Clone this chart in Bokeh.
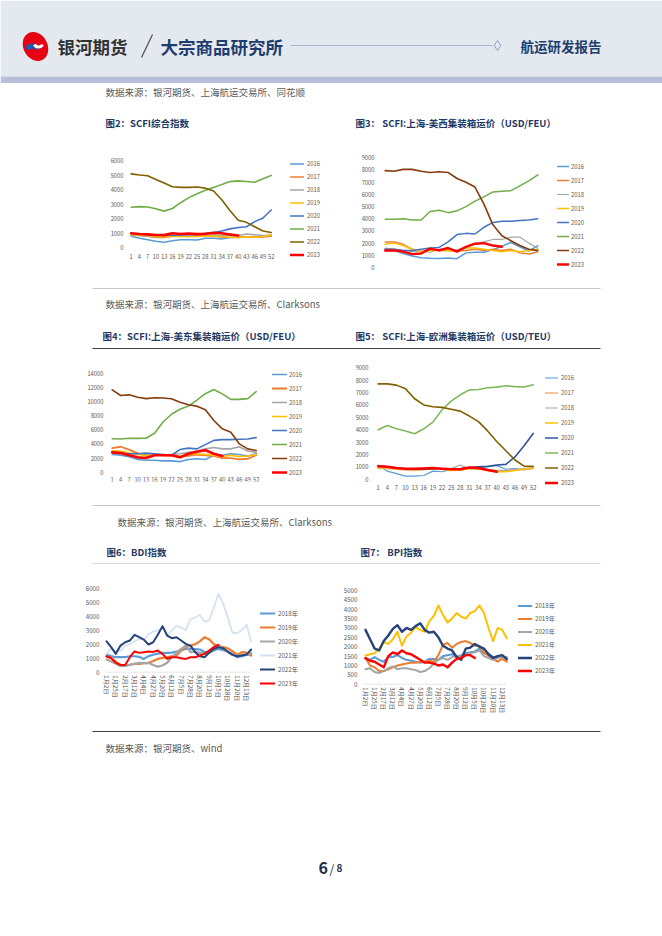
from bokeh.plotting import figure
from bokeh.layouts import column, row
from bokeh.models import Range1d, FixedTicker, Legend, LegendItem, Spacer
from bokeh.embed import file_html
from bokeh.resources import INLINE
from bokeh.core.properties import value

FONT = "Noto Sans CJK SC"

# ------------------------------------------------------------------ data
WEEKS = [1, 4, 7, 10, 13, 16, 19, 22, 25, 28, 31, 34, 37, 40, 43, 46, 49, 52]
WEEK_TICKS = [1, 4, 7, 10, 13, 16, 19, 22, 25, 28, 31, 34, 37, 40, 43, 46, 49, 52]
SCFI_YEARS = ["2016", "2017", "2018", "2019", "2020", "2021", "2022", "2023"]

# Fig 2: SCFI composite
s2_2016 = [800, 650, 550, 450, 380, 480, 550, 550, 530, 650, 650, 600, 700, 750, 750, 750, 800, 900]
s2_2017 = [900, 850, 800, 700, 700, 800, 800, 780, 800, 850, 800, 750, 700, 700, 750, 750, 750, 800]
s2_2018 = [850, 850, 800, 750, 780, 800, 800, 850, 850, 850, 900, 850, 850, 850, 950, 900, 850, 850]
s2_2019 = [900, 880, 850, 780, 760, 800, 780, 800, 780, 830, 800, 780, 720, 700, 750, 720, 760, 900]
s2_2020 = [980, 950, 900, 880, 880, 850, 880, 900, 920, 1000, 1050, 1150, 1300, 1400, 1450, 1800, 2050, 2600]
s2_2021 = [2790, 2830, 2800, 2680, 2520, 2700, 3100, 3450, 3720, 3960, 4150, 4350, 4550, 4600, 4560, 4500, 4750, 4970]
s2_2022 = [5080, 5000, 4950, 4700, 4450, 4200, 4150, 4150, 4180, 4100, 3900, 3300, 2550, 1900, 1750, 1450, 1150, 1050]
s2_2023 = [1000, 950, 920, 880, 870, 1000, 950, 980, 940, 950, 1030, 1000, 920, 850]

# Fig 3: Shanghai - US West (USD/FEU)
s3_2016 = [1530, 1390, 1150, 950, 800, 760, 740, 780, 720, 1200, 1250, 1250, 1450, 1750, 2050, 1700, 1350, 1800]
s3_2017 = [2100, 2100, 1900, 1500, 1300, 1500, 1400, 1400, 1350, 1400, 1500, 1400, 1500, 1400, 1500, 1200, 1100, 1300]
s3_2018 = [1600, 1500, 1400, 1300, 1350, 1250, 1500, 1500, 1450, 1700, 1900, 2100, 2300, 2300, 2500, 2500, 2000, 1600]
s3_2019 = [1900, 2000, 1800, 1500, 1300, 1400, 1400, 1400, 1300, 1600, 1600, 1500, 1400, 1300, 1400, 1300, 1400, 1500]
s3_2020 = [1500, 1500, 1400, 1400, 1500, 1600, 1650, 2100, 2700, 2800, 2750, 3300, 3700, 3800, 3800, 3850, 3900, 4000]
s3_2021 = [3950, 3950, 4000, 3900, 3900, 4600, 4700, 4500, 4650, 5000, 5450, 5800, 6200, 6250, 6300, 6700, 7100, 7600]
s3_2022 = [7950, 7900, 8050, 8050, 7900, 7800, 7850, 7800, 7300, 7000, 6600, 5200, 3500, 2600, 2200, 1800, 1500, 1400]
s3_2023 = [1400, 1400, 1300, 1100, 1150, 1550, 1400, 1600, 1300, 1700, 1950, 2000, 1800, 1700]

# Fig 4: Shanghai - US East (USD/FEU)
s4_2016 = [2500, 2400, 2200, 1800, 1700, 1700, 1600, 1600, 1500, 1800, 1900, 1800, 2400, 2400, 2600, 2500, 2300, 2600]
s4_2017 = [3400, 3600, 3200, 2700, 2300, 2500, 2400, 2400, 2200, 2300, 2500, 2400, 2300, 2000, 2000, 1800, 1900, 2400]
s4_2018 = [3000, 2900, 2700, 2600, 2500, 2500, 2400, 2500, 2600, 2800, 3000, 3300, 3500, 3300, 3300, 3600, 3000, 2800]
s4_2019 = [3000, 3000, 2700, 2500, 2400, 2400, 2400, 2300, 2200, 2500, 2600, 2500, 2400, 2200, 2400, 2200, 2300, 2500]
s4_2020 = [2800, 2700, 2600, 2600, 2700, 2600, 2500, 2400, 3200, 3400, 3300, 3900, 4500, 4600, 4600, 4650, 4700, 4900]
s4_2021 = [4720, 4700, 4800, 4780, 4800, 5500, 7100, 8200, 8900, 9350, 10200, 11100, 11700, 11080, 10300, 10300, 10400, 11400]
s4_2022 = [11650, 10850, 10940, 10610, 10400, 10520, 10500, 10380, 9900, 9530, 9340, 8820, 7310, 6130, 5660, 4010, 3300, 3070]
s4_2023 = [2800, 2700, 2400, 2100, 2000, 2400, 2400, 2400, 2100, 2600, 2900, 3100, 2600, 2300]

# Fig 5: Shanghai - Europe (USD/TEU)
s5_2016 = [1100, 650, 450, 250, 250, 300, 650, 600, 800, 700, 900, 900, 1000, 1100, 800, 850, 750, 900]
s5_2017 = [950, 850, 800, 750, 700, 900, 900, 850, 800, 850, 900, 800, 750, 700, 700, 750, 800, 850]
s5_2018 = [850, 900, 850, 800, 750, 750, 850, 850, 850, 1150, 850, 800, 800, 700, 700, 750, 850, 950]
s5_2019 = [900, 900, 850, 800, 750, 800, 800, 800, 700, 750, 850, 850, 700, 600, 600, 700, 800, 900]
s5_2020 = [1100, 1000, 900, 850, 800, 800, 850, 850, 800, 850, 950, 1000, 1050, 1150, 1200, 1800, 2700, 3700]
s5_2021 = [3990, 4340, 4070, 3900, 3670, 4070, 4610, 5610, 6310, 6820, 7220, 7250, 7390, 7440, 7550, 7480, 7450, 7630]
s5_2022 = [7700, 7700, 7600, 7300, 6500, 6000, 5850, 5800, 5650, 5500, 5100, 4650, 3900, 3050, 2300, 1550, 1050, 1050]
s5_2023 = [1050, 1000, 900, 850, 850, 870, 900, 850, 800, 800, 950, 900, 750, 600]

# Fig 6 / 7: BDI / BPI, trading-day index of each reading
DAY_IDX = [0, 8, 16, 24, 32, 40, 48, 56, 64, 72, 80, 88, 96, 104, 112, 120,
           128, 136, 144, 152, 160, 168, 176, 184, 192, 200, 208, 216, 224, 232, 240, 248]
DATE_TICK_IDX = [0, 16, 32, 48, 64, 80, 96, 112, 128, 144, 160, 176, 192, 208, 224, 240]
DATE_LABELS = ["1月2日", "1月25日", "2月17日", "3月12日", "4月4日", "4月27日", "5月20日", "6月12日",
               "7月5日", "7月28日", "8月20日", "9月12日", "10月5日", "10月28日", "11月20日", "12月13日"]
BX_YEARS = ["2018年", "2019年", "2020年", "2021年", "2022年", "2023年"]

bdi_2018 = [1260, 1150, 1070, 1070, 1080, 1140, 1140, 1100, 950, 1150, 1250, 1330, 1360, 1380, 1400, 1480,
            1550, 1670, 1670, 1650, 1620, 1450, 1430, 1550, 1670, 1580, 1450, 1300, 1070, 1150, 1230, 1250]
bdi_2019 = [1120, 1000, 760, 520, 480, 520, 600, 600, 640, 670, 800, 950, 1020, 1070, 1150, 1190,
            1550, 1850, 1900, 2000, 2200, 2500, 2350, 2000, 1850, 1790, 1700, 1500, 1240, 1430, 1400, 1190]
bdi_2020 = [900, 760, 600, 430, 450, 520, 600, 670, 640, 670, 520, 400, 480, 670, 1070, 1380,
            1670, 1900, 1430, 1480, 1380, 1310, 1430, 1620, 1900, 1710, 1430, 1240, 1190, 1200, 1290, 1360]
bdi_2021 = [1300, 1700, 1500, 1500, 1900, 2000, 2200, 2400, 2300, 2700, 2900, 3000, 3200, 2600, 3000, 3300,
            3200, 3000, 3800, 3900, 4100, 3600, 3700, 4600, 5600, 4900, 3900, 2800, 2800, 3000, 3400, 2200]
bdi_2022 = [2210, 1790, 1310, 1900, 2140, 2260, 2670, 2500, 2330, 1980, 2140, 2670, 3290, 2620, 2430, 2500,
            2260, 2020, 1900, 1430, 1140, 1070, 1380, 1670, 1790, 1710, 1480, 1240, 1140, 1200, 1260, 1620]
bdi_2023 = [1140, 1000, 670, 520, 520, 1070, 1480, 1380, 1430, 1480, 1450, 1550, 1310, 950, 1070, 1070,
            1000, 950, 1070, 1070, 1190, 1310, 1550, 1790, 1950]

bpi_2018 = [1350, 1300, 1450, 1300, 1200, 1450, 1450, 1550, 1400, 1300, 1250, 1200, 1150, 1200, 1350, 1350,
            1300, 1500, 1550, 1600, 1450, 1550, 1650, 1700, 1750, 1900, 1650, 1600, 1450, 1400, 1500, 1300]
bpi_2019 = [1400, 1000, 900, 700, 700, 800, 900, 1000, 1050, 1100, 1150, 1150, 1200, 1200, 1250, 1200,
            1550, 2100, 2200, 1950, 2150, 2250, 2300, 2200, 2050, 2050, 1700, 1500, 1350, 1200, 1350, 1200]
bpi_2020 = [800, 850, 650, 600, 700, 850, 950, 800, 850, 850, 800, 750, 650, 700, 850, 1100,
            1300, 1400, 1300, 1450, 1500, 1500, 1550, 1650, 1700, 1800, 1500, 1400, 1300, 1400, 1450, 1450]
bpi_2021 = [1530, 1600, 1650, 1900, 2250, 2150, 2400, 2800, 2050, 2550, 2750, 3050, 2900, 2800, 3350, 3650,
            4200, 3700, 3300, 3500, 3800, 3600, 3500, 3800, 3900, 4200, 3800, 3000, 2300, 3000, 2900, 2450]
bpi_2022 = [2900, 2400, 1900, 1800, 2300, 2600, 2950, 3150, 2800, 3000, 2900, 3100, 3250, 2900, 2750, 2800,
            2500, 2050, 1900, 1800, 1450, 1300, 1900, 1950, 2150, 2000, 1900, 1600, 1400, 1500, 1550, 1350]
bpi_2023 = [1400, 1250, 1200, 1050, 900, 1500, 1700, 1600, 1800, 1650, 1600, 1450, 1300, 1150, 1150, 1100,
            1000, 1050, 900, 1150, 1350, 1400, 1550, 1550, 1400]

# ------------------------------------------------------------------ styles
C16, C17, C18, C19 = "#5b9bd5", "#ed7d31", "#a5a5a5", "#ffc000"
C20, C21, C23 = "#4472c4", "#70ad47", "#ff0000"
NAVY = "#1f3864"
GRAY_TXT = "#595959"
PAGE_W = 662


def chart(xs, series, names, colors, widths, yticks, xticks, fig_box, frame_box, xanc, yanc,
          leg, fs, ylab_so, xlab_so, overrides=None, vertical=False, baseline=None):
    X0, Y0, X1, Y1 = fig_box
    FL, FT, FR, FB = frame_box
    (xa, pxa), (xb, pxb) = xanc
    (ya, pya), (yb, pyb) = yanc
    sx = (pxb - pxa) / (xb - xa)
    sy = (pyb - pya) / (yb - ya)          # negative: pixels grow downward
    xr = (xa + (FL - pxa) / sx, xa + (FR - pxa) / sx)
    yr = (ya + (FB - pya) / sy, ya + (FT - pya) / sy)
    p = figure(frame_width=FR - FL, frame_height=FB - FT, min_border_left=FL - X0,
               min_border_right=X1 - FR, min_border_top=FT - Y0, min_border_bottom=Y1 - FB,
               x_range=Range1d(*xr), y_range=Range1d(*yr),
               output_backend="svg", toolbar_location=None, title=None, margin=0)
    p.outline_line_color = None
    p.xgrid.visible = False
    p.ygrid.visible = False
    p.background_fill_color = "white"
    p.border_fill_color = "white"
    if baseline is not None:
        p.segment(x0=[baseline[0]], y0=[0], x1=[baseline[1]], y1=[0], line_color="#cfcfcf",
                  line_width=0.8, line_dash="2 1")
    items = []
    for ys, n, c, w in zip(series, names, colors, widths):
        r = p.line(xs[:len(ys)], ys, line_color=c, line_width=w, line_join="round", line_cap="round")
        items.append(LegendItem(label=n, renderers=[r]))
    for ax in (p.xaxis[0], p.yaxis[0]):
        ax.major_tick_line_color = None
        ax.minor_tick_line_color = None
        ax.major_tick_out = 0
        ax.major_tick_in = 0
        ax.major_label_text_font = FONT
        ax.major_label_text_font_size = fs
        ax.major_label_text_color = GRAY_TXT
        ax.axis_line_color = None
    p.xaxis.fixed_location = 0
    p.yaxis.ticker = FixedTicker(ticks=yticks)
    p.xaxis.ticker = FixedTicker(ticks=xticks)
    p.yaxis.major_label_standoff = ylab_so
    p.xaxis.major_label_standoff = xlab_so
    if overrides:
        p.xaxis.major_label_overrides = overrides
    if vertical:
        p.xaxis.major_label_orientation = "vertical"
    gx, first_c, h, gw, so = leg
    n = len(items)
    leg_bottom = first_c - h / 2 + n * h
    lg = Legend(items=items, location=(round(gx - FL), round(FB - leg_bottom)), orientation="vertical",
                glyph_width=gw, glyph_height=h, label_height=h, spacing=0, padding=0, margin=0,
                label_standoff=so, label_text_font=FONT, label_text_font_size=fs,
                label_text_color=GRAY_TXT, background_fill_alpha=0, border_line_color=None)
    p.add_layout(lg, "center")
    return p


def band(h):
    p = figure(frame_width=PAGE_W, frame_height=h, min_border=0, x_range=Range1d(0, PAGE_W),
               y_range=Range1d(h, 0), output_backend="svg", toolbar_location=None,
               title=None, margin=0)
    p.axis.visible = False
    p.grid.visible = False
    p.outline_line_color = None
    p.background_fill_color = "white"
    p.border_fill_color = "white"
    return p


def texts(p, xs, ys, ts, size, color, bold=False, baseline="middle"):
    p.text(x=xs, y=ys, text=ts, text_font=value(FONT), text_font_size=size,
           text_font_style="bold" if bold else "normal", text_color=color,
           text_baseline=baseline, text_align="left")


def hline(p, y, color, w=1.0):
    p.segment(x0=[92], y0=[y], x1=[600], y1=[y], line_color=color, line_width=w)


# ------------------------------------------------------------------ header (page y 0-83)
hd = band(83)
hd.quad(left=[0], right=[PAGE_W], top=[0], bottom=[76], fill_color="#e4e8ef", line_color=None)
hd.quad(left=[0], right=[PAGE_W], top=[76], bottom=[83], fill_color="#b7bfda", line_color=None)
hd.ellipse(x=[35], y=[46], width=[24], height=[30], angle=[0.5], fill_color="#e60012", line_color=None)
hd.annular_wedge(x=[32], y=[52], inner_radius=[4], outer_radius=[9], start_angle=[0.6], end_angle=[2.6],
                 fill_color="#1e5aa8", line_color=None)
hd.annular_wedge(x=[38], y=[42], inner_radius=[3], outer_radius=[6], start_angle=[3.6], end_angle=[5.8],
                 fill_color="white", line_color=None)
texts(hd, [57], [45.5], ["银河期货"], "17.5px", "#333333", bold=True)
hd.segment(x0=[141], y0=[57], x1=[152], y1=[34], line_color="#555555", line_width=1.3)
texts(hd, [160], [45.5], ["大宗商品研究所"], "17.5px", "#1c3d6e", bold=True)
hd.segment(x0=[290], y0=[45], x1=[492], y1=[45], line_color="#aab4d2", line_width=1)
hd.scatter(x=[497], y=[45], marker="diamond", size=10, fill_color="#e4e8ef", line_color="#8d9cc4")
texts(hd, [520], [45.5], ["航运研发报告"], "13.5px", "#1c3d6e", bold=True)

# ------------------------------------------------------------------ band B (page y 83-140)
bB = band(57)
texts(bB, [105], [8], ["数据来源：银河期货、上海航运交易所、同花顺"], "9.5px", GRAY_TXT)
texts(bB, [105, 355], [39, 39], ["图2：SCFI综合指数", "图3：  SCFI:上海-美西集装箱运价（USD/FEU）"],
      "9.5px", NAVY, bold=True)

# ------------------------------------------------------------------ row C (page y 140-282)
c2 = chart(WEEKS, [s2_2016, s2_2017, s2_2018, s2_2019, s2_2020, s2_2021, s2_2022, s2_2023], SCFI_YEARS,
           [C16, C17, C18, C19, C20, C21, "#7f6000", C23], [1.5, 1.5, 1.5, 1.5, 1.6, 1.6, 1.6, 2.6],
           [0, 1000, 2000, 3000, 4000, 5000, 6000], WEEK_TICKS,
           (90, 140, 345, 282), (128, 155, 325, 262), ((1, 130.7), (52, 270.7)), ((0, 247.3), (6000, 160)),
           (290, 163.3, 13, 14, 3), "5.8px", 5, 6)
c3 = chart(WEEKS, [s3_2016, s3_2017, s3_2018, s3_2019, s3_2020, s3_2021, s3_2022, s3_2023], SCFI_YEARS,
           [C16, C17, C18, C19, C20, C21, "#843c0c", C23], [1.5, 1.5, 1.2, 1.5, 1.5, 1.5, 1.6, 2.4],
           [0, 1000, 2000, 3000, 4000, 5000, 6000, 7000, 8000, 9000], WEEK_TICKS,
           (345, 140, 600, 282), (382, 150, 596, 267), ((1, 384.7), (52, 537.3)), ((0, 262), (9000, 152.3)),
           (557, 160.7, 14, 12, 2), "5.8px", 8, 5)
rowC = row(Spacer(width=90, height=142, margin=0), c2, c3, spacing=0, margin=0)

# ------------------------------------------------------------------ band D (page y 282-362)
bD = band(80)
hline(bD, 6, "#c8c8c8")
texts(bD, [105], [21.5], ["数据来源：银河期货、上海航运交易所、Clarksons"], "9.5px", GRAY_TXT)
texts(bD, [102, 355], [53, 53], ["图4：SCFI:上海-美东集装箱运价（USD/FEU）", "图5：  SCFI:上海-欧洲集装箱运价（USD/TEU）"],
      "9.5px", NAVY, bold=True)
hline(bD, 66, "#404040")

# ------------------------------------------------------------------ row E (page y 362-498)
c4 = chart(WEEKS, [s4_2016, s4_2017, s4_2018, s4_2019, s4_2020, s4_2021, s4_2022, s4_2023], SCFI_YEARS,
           [C16, C17, C18, C19, C20, C21, "#843c0c", C23], [1.6, 1.8, 1.6, 1.6, 1.6, 1.6, 1.6, 2.6],
           [0, 2000, 4000, 6000, 8000, 10000, 12000, 14000], WEEK_TICKS,
           (80, 362, 345, 498), (109, 365, 312, 481), ((1, 111.7), (52, 255.7)), ((0, 471.7), (14000, 372.7)),
           (272, 374, 14, 15, 2), "5.8px", 6, 5)
c5 = chart(WEEKS, [s5_2016, s5_2017, s5_2018, s5_2019, s5_2020, s5_2021, s5_2022, s5_2023], SCFI_YEARS,
           [C16, "#f4b183", C18, C19, "#2f5597", "#7fb85a", "#806000", C23],
           [1.2, 1.6, 1.2, 1.6, 1.6, 1.6, 1.6, 2.6],
           [0, 1000, 2000, 3000, 4000, 5000, 6000, 7000, 8000, 9000], WEEK_TICKS,
           (345, 362, 600, 498), (375, 365, 592, 492), ((1, 377.7), (52, 532.7)), ((0, 478.7), (9000, 367.3)),
           (545, 377.7, 15, 13, 3), "5.8px", 7, 6)
rowE = row(Spacer(width=80, height=136, margin=0), c4, c5, spacing=0, margin=0)

# ------------------------------------------------------------------ band F (page y 498-572)
bF = band(74)
hline(bF, 7, "#c8c8c8")
texts(bF, [117], [23.5], ["数据来源：银河期货、上海航运交易所、Clarksons"], "9.5px", GRAY_TXT)
texts(bF, [106, 360], [53.5, 53.5], ["图6：BDI指数", "图7：  BPI指数"], "9.5px", NAVY, bold=True)
hline(bF, 65, "#dadada")

# ------------------------------------------------------------------ row G (page y 572-728)
date_over = {t: l for t, l in zip(DATE_TICK_IDX, DATE_LABELS)}
c6 = chart(DAY_IDX, [bdi_2018, bdi_2019, bdi_2020, bdi_2021, bdi_2022, bdi_2023], BX_YEARS,
           [C16, C17, C18, "#d6e2f2", "#264478", C23], [2.2, 2.2, 2.2, 1.8, 2.0, 2.0],
           [0, 1000, 2000, 3000, 4000, 5000, 6000], DATE_TICK_IDX,
           (80, 572, 340, 728), (103, 585, 305, 712), ((0, 106), (240, 246)), ((0, 671.7), (6000, 587.7)),
           (260, 613.3, 14, 15, 3), "6.2px", 4, 3, date_over, True, (DAY_IDX[0], DAY_IDX[-1]))
c7 = chart(DAY_IDX, [bpi_2018, bpi_2019, bpi_2020, bpi_2021, bpi_2022, bpi_2023], BX_YEARS,
           [C16, C17, C18, C19, "#264478", C23], [2.0, 2.0, 2.0, 2.0, 2.4, 2.4],
           [0, 500, 1000, 1500, 2000, 2500, 3000, 3500, 4000, 4500, 5000], DATE_TICK_IDX,
           (340, 572, 600, 728), (362, 585, 565, 722), ((0, 365), (240, 501.7)), ((0, 683.7), (5000, 590)),
           (518, 605.7, 13, 14, 3), "6.2px", 5, 3, date_over, True, (DAY_IDX[0], DAY_IDX[-1]))
rowG = row(Spacer(width=80, height=156, margin=0), c6, c7, spacing=0, margin=0)

# ------------------------------------------------------------------ band H (page y 728-930)
bH = band(202)
hline(bH, 3, "#404040")
texts(bH, [105], [19], ["数据来源：银河期货、wind"], "9.5px", GRAY_TXT)
texts(bH, [318], [139.5], ["6"], "16px", "#1f3050", bold=True, baseline="alphabetic")
texts(bH, [329], [139.5], ["/"], "12px", "#1f3050", baseline="alphabetic")
texts(bH, [336], [139.5], ["8"], "10px", "#1f3050", bold=True, baseline="alphabetic")

page = column(hd, bB, rowC, bD, rowE, bF, rowG, bH, spacing=0, margin=0)

open("out.html", "w").write(file_html(page, INLINE))
